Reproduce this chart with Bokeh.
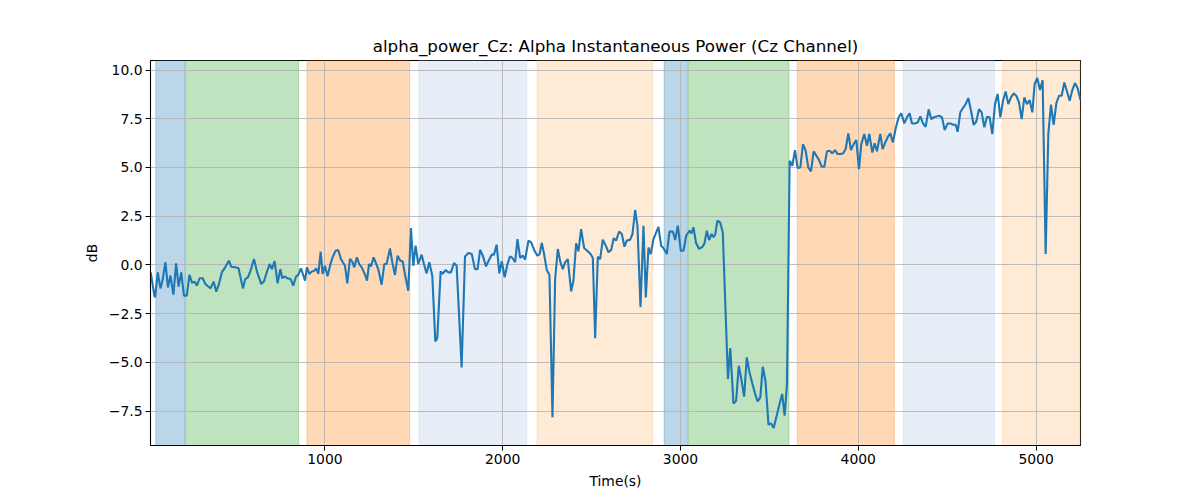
from bokeh.plotting import figure
from bokeh.models import BoxAnnotation, FixedTicker, Range1d, ColumnDataSource, CustomJSTickFormatter
from bokeh.embed import file_html
from bokeh.resources import INLINE

title_text = "alpha_power_Cz: Alpha Instantaneous Power (Cz Channel)"
x_label = "Time(s)"
y_label = "dB"

time = [
    20, 41, 45, 60, 75, 88, 103, 117, 131, 148, 163, 177, 192, 207, 223, 238, 253, 267, 280, 295,
    313, 327, 342, 357, 374, 389, 404, 420, 439, 460, 473, 495, 514, 539, 552, 567, 582, 601, 619, 642,
    657, 670, 689, 702, 717,
    734, 749, 760, 775, 788, 807, 822, 837, 850, 865, 876, 888, 899, 912, 925, 940, 951, 963, 976, 987,
    1000, 1015, 1030, 1043, 1060, 1075, 1090, 1101, 1113, 1126, 1141, 1154, 1165, 1180, 1193, 1207, 1222,
    1237, 1248, 1259, 1274, 1285, 1300, 1319, 1334, 1347, 1366, 1379, 1394, 1409, 1424, 1437,
    1450, 1469, 1484, 1497, 1510, 1525, 1544, 1557, 1572, 1587, 1604, 1621, 1632, 1651, 1662, 1679, 1694,
    1709, 1726, 1741, 1769, 1788, 1807, 1826, 1844, 1859, 1873, 1888, 1906, 1921, 1938, 1951, 1966, 1981,
    1995, 2011, 2026, 2041, 2055, 2070, 2083, 2098, 2113, 2126,
    2145, 2160, 2177, 2195, 2208, 2220, 2233, 2248, 2263, 2280, 2295, 2310, 2325, 2338, 2351, 2366, 2385,
    2398, 2413, 2426, 2441, 2458, 2479, 2494, 2507, 2520, 2535, 2548, 2563, 2580, 2595, 2610, 2625, 2638,
    2655, 2670, 2685, 2698, 2717, 2730, 2745, 2758, 2775, 2792, 2805, 2820, 2833, 2848,
    2876, 2891, 2904, 2923, 2938, 2957, 2970, 2985, 3002, 3017, 3032, 3051, 3062, 3073, 3088, 3105, 3124,
    3135, 3148, 3161, 3175, 3186, 3195, 3208, 3223, 3238,
    3267, 3280, 3298, 3313, 3328, 3342, 3358, 3373, 3388, 3405, 3420, 3434, 3449, 3463, 3478, 3495, 3509,
    3524, 3539, 3557, 3572, 3586, 3599, 3614, 3629, 3644, 3659, 3674, 3689, 3704, 3719, 3734, 3749, 3764,
    3779, 3794, 3809, 3824, 3839, 3854, 3869, 3884, 3899, 3914, 3929, 3944, 3959,
    3974, 3989, 4004, 4017, 4034, 4049, 4062, 4079, 4092, 4105, 4124, 4137, 4152, 4167, 4180, 4195, 4212,
    4227, 4242, 4259, 4274, 4289, 4302, 4317, 4334, 4349, 4364, 4379, 4396, 4411, 4424, 4439, 4458, 4471,
    4486, 4503, 4518, 4533, 4548, 4559, 4574, 4589, 4604, 4619, 4634, 4649, 4664, 4679, 4694, 4709, 4724,
    4739, 4754, 4769, 4784, 4799, 4814, 4829, 4844, 4859, 4874, 4889, 4904, 4919, 4934, 4949, 4964, 4979,
    4992, 5007, 5022, 5037, 5054, 5069, 5084, 5099, 5114, 5129, 5144, 5159, 5174, 5189, 5204, 5219, 5234,
    5250,
]

power = [
    -0.38, -1.57, -1.66, -0.38, -1.2, -0.72, 0.14, -1.15, -0.55, -1.52, 0.09, -1.11, -0.38, -1.57, -1.57,
    -0.51, -0.92, -0.85, -1.06, -0.68, -0.68, -0.97, -1.09, -1.2, -0.85, -1.37, -0.97, -0.38, -0.12, 0.22,
    -0.09, -0.12, -0.17, -1.2, -0.72, -0.63, -0.29, 0.31, -0.38, -0.97, -0.85, -0.46, 0.05, -0.21, 0.2,
    -0.94, -0.21, -0.68, -0.58, -0.68, -0.72, -1.06, -0.6, -0.51, -0.17, -0.46, -0.8, -0.12, -0.46, -0.34,
    -0.29, -0.17, -0.46, 0.68, -0.46, -0.04, -0.58, 0.0, 0.39, 0.73, 0.77, 0.31, 0.14, -0.04, -0.94, 0.31,
    0.17, -0.12, 0.39, 0.05, -0.12, -0.41, -0.8, 0.05, -0.07, 0.39, 0.14, -0.21, -1.01, 0.05, 0.05, 0.85,
    0.14, -0.51, 0.48, 0.22, 0.19,
    -0.46, -1.32, 1.9, -0.04, 0.99, 0.05, 0.53, 0.05, -0.43, 0.14, -0.55, -3.92, -3.75, -0.33, -0.46,
    -0.26, -0.38, -0.38, 0.1, -0.04, -5.25, 0.44, 0.61, 0.56, -0.21, -0.21, 0.78, 0.48, -0.07, 0.22, 0.53,
    0.53, 1.04, -0.43, 0.19, -0.63, 0.01, 0.44, 0.36, 0.14, 1.33, 0.36, 0.48, 0.28,
    1.25, 1.16, 0.77, 0.48, 0.56, 1.13, 0.56, -0.26, -0.5, -7.81, -0.72, 0.82, 0.13, -0.21, 0.13, 0.3,
    -1.35, -0.8, 1.11, 0.7, 1.84, 0.87, 0.7, 0.56, 0.36, -3.75, 0.42, 0.3, 1.3, 0.99, 0.65, 0.77, 1.38,
    1.25, 1.72, 1.59, 0.94, 1.25, 1.3, 1.59, 2.82, 2.01, -2.17, 2.01, -1.66, 0.9, 0.56, 1.33,
    1.96, 0.99, 0.87, 0.56, 1.71, 1.72, 1.28, 2.02, 0.73, 0.73, 1.5, 1.76, 1.62, 1.93, 1.11, 0.82, 0.94,
    1.11, 1.76, 1.28, 1.59, 1.42, 1.55, 2.27, 2.19, 1.67,
    -5.85, -4.26, -7.1, -6.96, -5.17, -5.85, -6.75, -4.74, -5.5, -6.1, -6.62, -6.99, -6.79, -5.22, -5.94,
    -8.19, -8.12, -8.36, -7.81, -7.13, -6.62, -7.73, -6.1, 5.35, 5.09, 5.89, 4.97, 5.0, 6.2, 5.86, 5.0,
    4.8, 5.83, 5.61, 5.39, 5.04, 5.04, 5.83, 5.86, 5.72, 5.89, 5.69, 5.69, 5.72, 5.94, 6.75, 5.89,
    6.2, 6.41, 4.92, 6.2, 6.72, 6.11, 6.72, 5.77, 6.24, 5.83, 6.72, 5.94, 6.29, 6.58, 6.75, 6.29, 7.06,
    7.57, 7.78, 7.26, 7.57, 7.78, 7.26, 7.26, 7.31, 7.62, 7.26, 7.09, 7.98, 7.48, 7.57, 7.62, 7.65, 7.57,
    6.92, 7.26, 7.26, 7.19, 7.19, 6.83, 7.83, 8.05, 8.25, 8.56, 7.91, 7.19, 7.36, 7.99, 7.83, 7.06, 7.6,
    7.57, 6.72, 8.25, 8.77, 7.57, 8.42, 8.9, 8.25, 8.6, 8.8, 8.68, 8.34, 7.48, 8.6, 8.25, 8.46, 7.83,
    9.28, 9.59, 8.97, 9.48, 0.56, 6.72, 8.22, 7.19, 8.29, 8.68, 8.68, 9.36, 8.9, 8.42, 8.97, 9.33, 9.07,
    8.46,
]

span_starts = [49, 216, 899, 1529, 2193, 2908, 3045, 3657, 4253, 4810]
span_ends = [212, 852, 1477, 2135, 2843, 3039, 3610, 4203, 4766, 5250]
span_colors = ["#1f77b4", "#2ca02c", "#ff7f0e", "#aec7e8", "#ffbb78",
               "#1f77b4", "#2ca02c", "#ff7f0e", "#aec7e8", "#ffbb78"]

x_ticks = [1000, 2000, 3000, 4000, 5000]
y_ticks = [-7.5, -5.0, -2.5, 0.0, 2.5, 5.0, 7.5, 10.0]

ymin, ymax = min(power), max(power)
pad = (ymax - ymin) * 0.05

p = figure(
    frame_width=930, frame_height=385,
    min_border_left=150, min_border_right=104, min_border_top=60, min_border_bottom=40,
    x_range=Range1d(min(time) - 1, max(time)),
    y_range=Range1d(ymin - pad, ymax + pad),
    output_backend="svg", toolbar_location=None,
    background_fill_color="white", border_fill_color="white",
)

for s, e, c in zip(span_starts, span_ends, span_colors):
    p.add_layout(BoxAnnotation(left=s, right=e, fill_color=c, fill_alpha=0.3,
                               line_color=c, line_alpha=0.3, line_width=1, level="image"))

src = ColumnDataSource(dict(time=time, power=power))
p.line(x="time", y="power", source=src, line_color="#1f77b4", line_width=2.1)

p.title.text = title_text
p.title.align = "center"
p.title.text_font = "DejaVu Sans"
p.title.text_font_size = "16.7px"
p.title.text_font_style = "normal"
p.title.text_color = "black"

p.xaxis.axis_label = x_label
p.yaxis.axis_label = y_label
p.xaxis.ticker = FixedTicker(ticks=x_ticks)
p.yaxis.ticker = FixedTicker(ticks=y_ticks)
p.yaxis.formatter = CustomJSTickFormatter(code="return tick.toFixed(1).replace('-', '\u2212');")

for ax in (p.xaxis, p.yaxis):
    ax.axis_label_text_font = "DejaVu Sans"
    ax.axis_label_text_font_size = "13.9px"
    ax.axis_label_text_font_style = "normal"
    ax.axis_label_text_color = "black"
    ax.major_label_text_font = "DejaVu Sans"
    ax.major_label_text_font_size = "13.9px"
    ax.major_label_text_color = "black"
    ax.minor_tick_line_color = None
    ax.major_tick_in = 0
    ax.major_tick_out = 5
    ax.major_tick_line_color = "black"
    ax.axis_line_color = "black"
    ax.major_label_standoff = 3
    ax.axis_label_standoff = 6

p.grid.grid_line_color = "#b0b0b0"
p.grid.grid_line_width = 0.8
p.outline_line_color = "black"
p.outline_line_width = 1.1

open("out.html", "w").write(file_html(p, INLINE))
